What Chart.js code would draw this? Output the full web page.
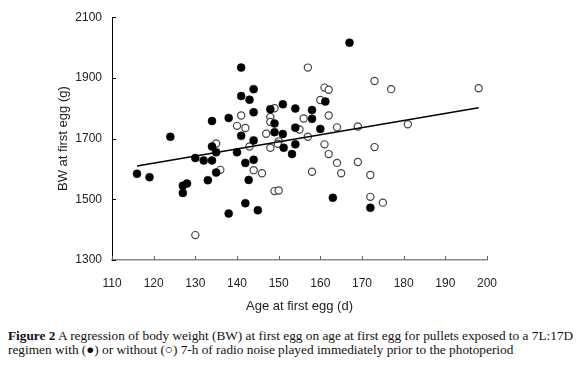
<!DOCTYPE html>
<html>
<head>
<meta charset="utf-8">
<script src="https://cdn.jsdelivr.net/npm/chart.js@4"></script>
<style>
  body { margin: 0; background: #fff; }
  #wrap { position: relative; width: 580px; height: 366px; }
  #chart { position: absolute; left: 0; top: 0; }
  #caption {
    position: absolute; left: 8px; top: 329px; width: 572px;
    font-family: "Liberation Serif", serif; font-size: 13.3px; line-height: 14px; color: #111;
    white-space: nowrap;
  }
</style>
</head>
<body>
<div id="wrap">
  <canvas id="chart" width="580" height="320"></canvas>
  <div id="caption"><b>Figure 2</b> A regression of body weight (BW) at first egg on age at first egg for pullets exposed to a 7L:17D<br>regimen with (&#9679;) or without (&#9675;) 7-h of radio noise played immediately prior to the photoperiod</div>
</div>
<script>
// 有噪音组（实心点）
const filledAge = [116, 119, 124, 127, 127, 128, 130, 132, 134, 133,
    134, 135, 135, 134, 138, 138, 140, 141, 141, 141,
    143, 144, 144, 142, 142.8, 142, 145, 144, 144, 148,
    149, 149, 151, 151, 151.2, 154, 154, 154, 153.2, 158,
    158, 160, 161.2, 167, 163, 172];
const filledBW = [1584, 1573, 1706, 1521, 1545, 1552, 1636, 1628, 1628, 1563,
    1674, 1655, 1588, 1758, 1768, 1453, 1655, 1709, 1934, 1840,
    1828, 1863, 1787, 1620, 1564, 1487, 1464, 1694, 1630, 1797,
    1750, 1721, 1813, 1715, 1670, 1799, 1736, 1681, 1649, 1794,
    1765, 1732, 1822, 2016, 1505, 1472];

// 无噪音组（空心点）
const openAge = [130, 135, 136, 141, 140, 142, 143, 144, 146, 147,
    148, 148, 149, 148, 150, 149.8, 149, 150, 155, 156,
    157, 157, 158, 160, 161, 162, 162, 161, 162, 164,
    164, 165, 169, 169, 173, 173, 172, 172, 175, 177,
    181, 198];
const openBW = [1382, 1684, 1597, 1776, 1742, 1735, 1674, 1596, 1586, 1716,
    1771, 1755, 1800, 1670, 1691, 1683, 1527, 1529, 1730, 1766,
    1934, 1706, 1591, 1827, 1868, 1861, 1776, 1681, 1649, 1737,
    1620, 1586, 1740, 1623, 1890, 1672, 1580, 1508, 1489, 1863,
    1747, 1866];

// 回归线端点
const fitAge = [116, 198];
const fitBW = [1610, 1802];

const xTicks = [110, 120, 130, 140, 150, 160, 170, 180, 190, 200];
const yTicks = [1300, 1500, 1700, 1900, 2100];

function toPoints(xs, ys) {
    return xs.map((x, i) => ({ x: x, y: ys[i] }));
}

// 向内的刻度线
const innerTicks = {
    id: 'innerTicks',
    afterDraw(chart) {
        const { ctx, chartArea, scales } = chart;
        ctx.save();
        ctx.strokeStyle = '#000';
        ctx.lineWidth = 1;
        yTicks.forEach(v => {
            const y = Math.round(scales.y.getPixelForValue(v)) + 0.5;
            ctx.beginPath();
            ctx.moveTo(chartArea.left, y);
            ctx.lineTo(chartArea.left + 4, y);
            ctx.stroke();
        });
        ctx.strokeStyle = '#666';
        xTicks.forEach(v => {
            const x = Math.round(scales.x.getPixelForValue(v)) + 0.5;
            ctx.beginPath();
            ctx.moveTo(x, chartArea.bottom);
            ctx.lineTo(x, chartArea.bottom - 4);
            ctx.stroke();
        });
        ctx.restore();
    }
};

const tickFont = { family: '"Liberation Sans", Arial, sans-serif', size: 12 };

new Chart(document.getElementById('chart'), {
    type: 'scatter',
    data: {
        datasets: [{
            type: 'line',
            data: toPoints(fitAge, fitBW),
            borderColor: '#000',
            borderWidth: 1.5,
            pointRadius: 0,
            fill: false
        }, {
            data: toPoints(filledAge, filledBW),
            pointRadius: 4,
            pointBackgroundColor: '#000',
            pointBorderColor: '#000',
            pointBorderWidth: 0.5
        }, {
            data: toPoints(openAge, openBW),
            pointRadius: 3.6,
            pointBackgroundColor: '#fff',
            pointBorderColor: '#444',
            pointBorderWidth: 1.2
        }]
    },
    options: {
        responsive: false,
        animation: false,
        layout: { padding: { left: 0, right: 93, top: 8, bottom: 0 } },
        plugins: {
            legend: { display: false },
            tooltip: { enabled: false }
        },
        scales: {
            x: {
                type: 'linear',
                min: 110,
                max: 200,
                afterFit(scale) { scale.height = 60; },
                afterBuildTicks(scale) { scale.ticks = xTicks.map(v => ({ value: v })); },
                grid: { display: false, drawTicks: false },
                border: { display: true, color: '#888', width: 1.5 },
                ticks: { padding: 16, color: '#222', font: tickFont, callback: v => String(v) },
                title: {
                    display: true,
                    text: 'Age at first egg (d)',
                    color: '#222',
                    font: { family: '"Liberation Sans", Arial, sans-serif', size: 13 },
                    padding: { top: 0, bottom: 6 }
                }
            },
            y: {
                type: 'linear',
                min: 1300,
                max: 2100,
                afterFit(scale) { scale.width = 112; },
                afterBuildTicks(scale) { scale.ticks = yTicks.map(v => ({ value: v })); },
                grid: { display: false, drawTicks: false },
                border: { display: true, color: '#000', width: 1 },
                ticks: { padding: 10, color: '#222', font: tickFont, callback: v => String(v) },
                title: {
                    display: true,
                    text: 'BW at first egg (g)',
                    color: '#222',
                    font: { family: '"Liberation Sans", Arial, sans-serif', size: 13 },
                    padding: { top: 56, bottom: 0 }
                }
            }
        }
    },
    plugins: [innerTicks]
});
</script>
</body>
</html>
